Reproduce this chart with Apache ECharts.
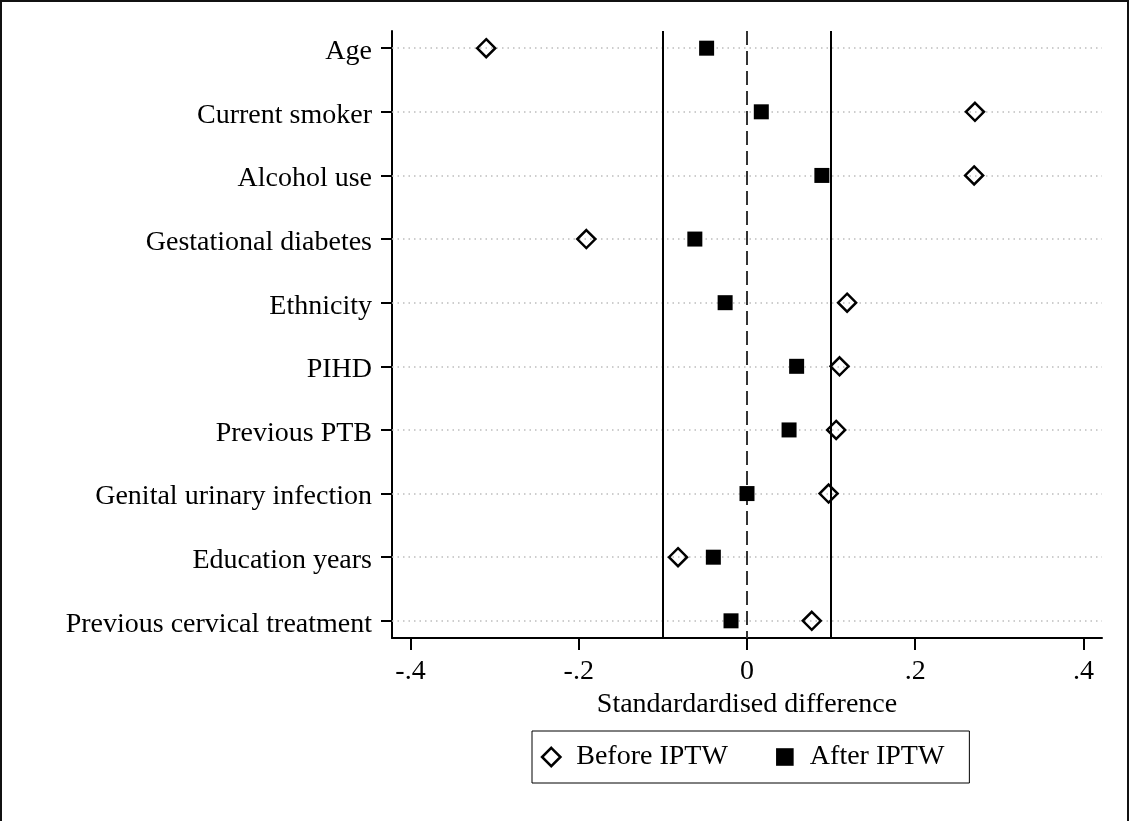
<!DOCTYPE html>
<html>
<head>
<meta charset="utf-8">
<script src="https://cdn.jsdelivr.net/npm/echarts@6/dist/echarts.min.js"></script>
<style>
  html, body { margin: 0; padding: 0; background: #fff; }
  #chart { width: 1130px; height: 821px; }
</style>
</head>
<body>
<div id="chart"></div>
<script>
// covariates, top to bottom
const categories = [
    'Age', 'Current smoker', 'Alcohol use', 'Gestational diabetes', 'Ethnicity',
    'PIHD', 'Previous PTB', 'Genital urinary infection', 'Education years',
    'Previous cervical treatment'
]
// standardised differences
const beforeIPTW = [-0.310, 0.271, 0.270, -0.191, 0.119, 0.110, 0.106, 0.097, -0.082, 0.077]
const afterIPTW = [-0.048, 0.017, 0.089, -0.062, -0.026, 0.059, 0.050, 0.000, -0.040, -0.019]

// x axis ticks
const xTicks = [-0.4, -0.2, 0, 0.2, 0.4]
const xTickLabels = ['-.4', '-.2', '0', '.2', '.4']

// reference lines
const limitLines = [-0.1, 0.1]
const zeroLine = [0]

const font = 'Liberation Serif'
const rowIndex = categories.map((c, i) => i)

// legend icons, padded inside a 20x20 box so the two marks get their own sizes
const diamondIcon = 'path://M0,0 M20,20 M10,0.8 L19.2,10 L10,19.2 L0.8,10 Z'
const squareIcon = 'path://M0,0 M20,20 M1.2,1.2 L18.8,1.2 L18.8,18.8 L1.2,18.8 Z'

const chart = echarts.init(document.getElementById('chart'))

const option = {
    backgroundColor: '#fff',
    animation: false,
    textStyle: { fontFamily: font, color: '#000' },
    graphic: [{
        type: 'rect',
        shape: { x: 1, y: 1, width: 1127, height: 840 },
        style: { fill: 'none', stroke: '#111', lineWidth: 2 },
        silent: true
    }],
    grid: { left: 392, top: 31, width: 710, height: 607 },
    legend: {
        left: 532,
        top: 731,
        orient: 'horizontal',
        borderColor: '#000',
        borderWidth: 1,
        padding: [12, 25, 12, 8],
        itemWidth: 20,
        itemHeight: 20,
        itemGap: 47,
        itemStyle: { borderWidth: 2.5 },
        textStyle: { fontFamily: font, fontSize: 28, color: '#000', lineHeight: 28, padding: [0, 0, 0, 10] },
        data: [
            { name: 'Before IPTW', icon: diamondIcon },
            { name: 'After IPTW', icon: squareIcon }
        ]
    },
    xAxis: {
        type: 'value',
        min: -0.422,
        max: 0.422,
        name: 'Standardardised difference',
        nameLocation: 'middle',
        nameGap: 50,
        nameTextStyle: { fontFamily: font, fontSize: 28, color: '#000' },
        axisLine: { show: true, onZero: false, lineStyle: { color: '#000', width: 2 } },
        axisTick: { show: true, customValues: xTicks, length: 12, lineStyle: { color: '#000', width: 2 } },
        axisLabel: {
            customValues: xTicks,
            margin: 20,
            fontFamily: font,
            fontSize: 28,
            color: '#000',
            formatter: v => xTickLabels[xTicks.findIndex(t => Math.abs(t - v) < 1e-9)]
        },
        splitLine: { show: false }
    },
    yAxis: {
        type: 'value',
        inverse: true,
        min: -0.27,
        max: 9.27,
        axisLine: { show: true, onZero: false, lineStyle: { color: '#000', width: 2 } },
        axisTick: { show: true, customValues: rowIndex, length: 11, lineStyle: { color: '#000', width: 2 } },
        axisLabel: {
            customValues: rowIndex,
            margin: 20,
            fontFamily: font,
            fontSize: 28,
            color: '#000',
            formatter: v => '{t|' + categories[Math.round(v)] + '}',
            rich: {
                t: { fontFamily: font, fontSize: 28, color: '#000', padding: [7, 0, 0, 0] }
            }
        },
        splitLine: { show: false }
    },
    series: [
        {
            // reference lines and row guides
            type: 'scatter',
            data: [],
            z: 1,
            silent: true,
            markLine: {
                silent: true,
                z: 1,
                symbol: 'none',
                label: { show: false },
                animation: false,
                data: [
                    ...rowIndex.map(i => ({ yAxis: i, lineStyle: { color: '#bdbdbd', width: 1.5, type: [1.5, 4] } })),
                    ...limitLines.map(v => ({ xAxis: v, lineStyle: { color: '#000', width: 2, type: 'solid' } })),
                    ...zeroLine.map(v => ({ xAxis: v, lineStyle: { color: '#333', width: 2, type: [14, 6] } }))
                ]
            }
        },
        {
            name: 'Before IPTW',
            type: 'scatter',
            z: 5,
            symbol: 'diamond',
            symbolSize: 18,
            itemStyle: { color: 'rgba(255,255,255,0)', borderColor: '#000', borderWidth: 2.5, opacity: 1 },
            data: beforeIPTW.map((v, i) => [v, i])
        },
        {
            name: 'After IPTW',
            type: 'scatter',
            z: 5,
            symbol: 'rect',
            symbolSize: 15,
            itemStyle: { color: '#000', opacity: 1 },
            data: afterIPTW.map((v, i) => [v, i])
        }
    ]
}

chart.setOption(option)
</script>
</body>
</html>
